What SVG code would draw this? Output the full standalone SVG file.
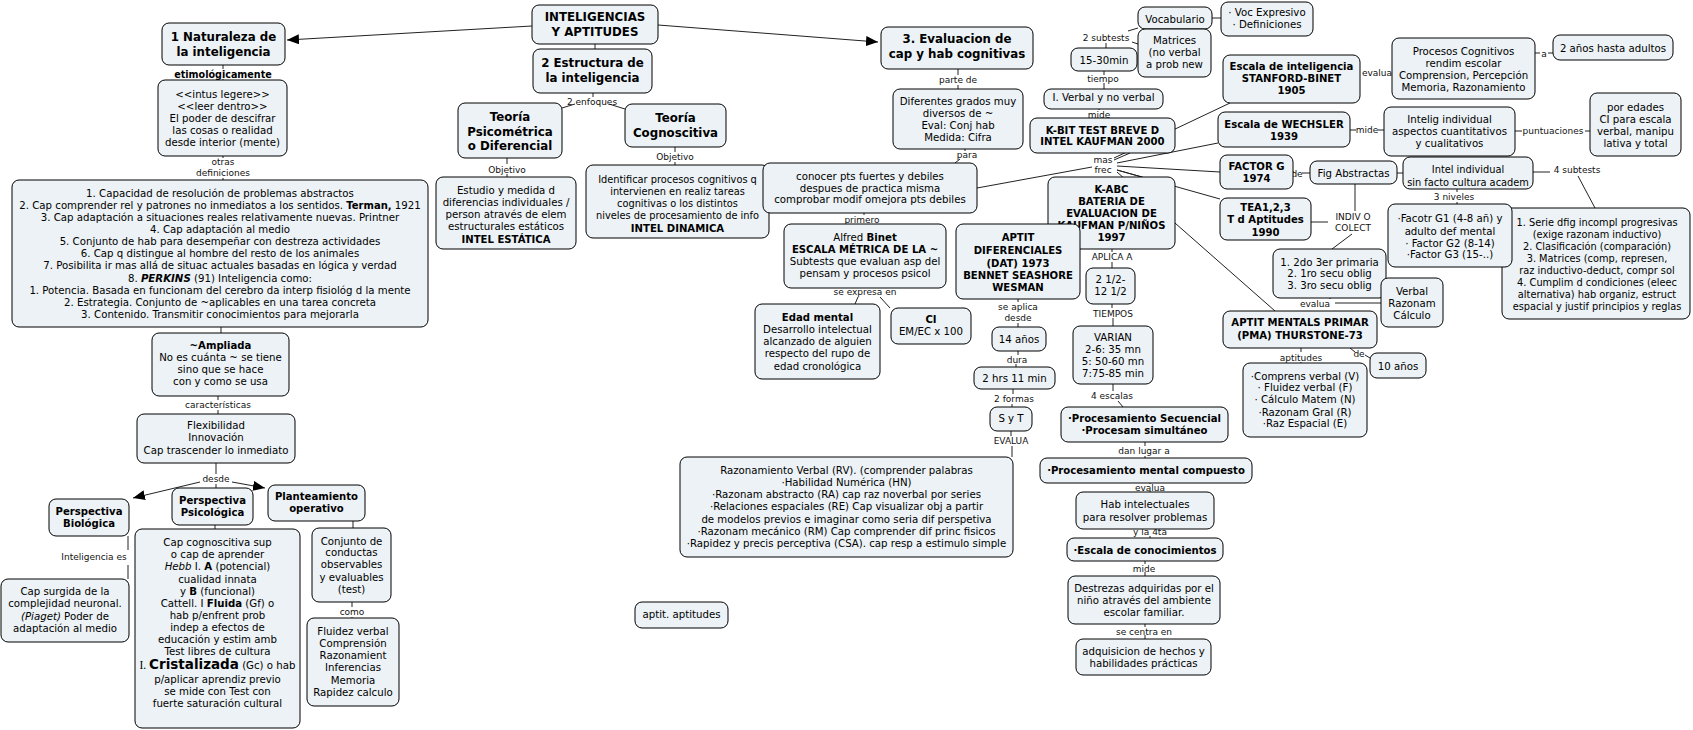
<svg xmlns="http://www.w3.org/2000/svg" width="1693" height="730" viewBox="0 0 1693 730">
<style>
.n rect{fill:#ecf2f5;stroke:#000;stroke-width:1}
text{font-family:"DejaVu Sans",Verdana,sans-serif;text-anchor:middle;fill:#000}
.t{font-size:10.2px}
.s{font-size:9.8px}
.b{font-size:10.1px;font-weight:bold}
.h{font-size:11.8px;font-weight:bold}
.l{font-size:9px;fill:#111}
.lb{font-size:9.6px;font-weight:bold}
#conn path{stroke:#222;stroke-width:1;fill:none}
</style>
<defs>
<marker id="ah" viewBox="0 0 12 10" refX="12" refY="5" markerWidth="12" markerHeight="10" markerUnits="userSpaceOnUse" orient="auto"><path d="M0,0 L12,5 L0,10 z" fill="#000"/></marker>
</defs>
<rect width="1693" height="730" fill="#fff"/>
<g id="conn">
<path d="M532,26 L287,40" marker-end="url(#ah)"/>
<path d="M658,25 L878,42" marker-end="url(#ah)"/>
<path d="M595,44 V49"/>
<path d="M223,65 V69 M223,79 V80"/>
<path d="M223,156 V158 M223,178 V180"/>
<path d="M221,327 V333"/>
<path d="M218,396 V400 M218,410 V414"/>
<path d="M216,463 V474"/>
<path d="M200,482 L133,498" marker-end="url(#ah)"/>
<path d="M216,484 V488"/>
<path d="M232,482 L265,488" marker-end="url(#ah)"/>
<path d="M215,525 V529"/>
<path d="M128,536 V550 M128,565 V579"/>
<path d="M353,521 V528"/>
<path d="M352,602 V607 M352,617 V618"/>
<path d="M593,93 V97 M575,104 L562,108 M609,104 L625,109"/>
<path d="M507,158 V164 M507,174 V177"/>
<path d="M675,147 V152 M675,162 V165"/>
<path d="M958,69 V75 M958,85 V89"/>
<path d="M965,149 V151 M960,159 L955,163"/>
<path d="M864,213 V215 M864,224 V224"/>
<path d="M977,188 L1092,167"/>
<path d="M858,297 L855,304 M880,297 L890,308"/>
<path d="M1018,299 V302 M1018,323 V327"/>
<path d="M1018,351 V355 M1016,364 V367"/>
<path d="M1013,389 V394 M1012,404 V407"/>
<path d="M1011,431 V436 M1012,446 V457"/>
<path d="M1112,249 V252 M1112,262 V268"/>
<path d="M1112,304 V308 M1113,318 V326"/>
<path d="M1113,384 V391 M1118,401 L1123,407"/>
<path d="M1145,442 V446 M1145,456 V458"/>
<path d="M1150,483 V484 M1150,491 V492"/>
<path d="M1150,536 V538"/>
<path d="M1145,561 V564 M1145,572 V576"/>
<path d="M1145,624 V627 M1145,635 V639"/>
<path d="M1104,71 V75 M1104,83 V89"/>
<path d="M1106,43 V48 M1128,31 L1138,28 M1132,42 L1138,44"/>
<path d="M1212,18 H1221"/>
<path d="M1099,109 V110"/>
<path d="M1114,160 L1130,153"/>
<path d="M1114,158 L1230,103"/>
<path d="M1117,163 L1218,143"/>
<path d="M1117,166 L1220,172"/>
<path d="M1117,170 L1142,177"/>
<path d="M1117,170 L1220,199"/>
<path d="M1117,172 L1275,311"/>
<path d="M1535,53 H1540 M1548,53 H1553"/>
<path d="M1350,130 H1356 M1378,130 H1384"/>
<path d="M1515,131 H1522 M1585,131 H1590"/>
<path d="M1293,172 H1294 M1302,173 H1310"/>
<path d="M1397,173 H1403"/>
<path d="M1533,172 H1550 M1578,176 L1595,208"/>
<path d="M1457,189 V192 M1457,202 V204"/>
<path d="M1311,222 H1328 M1355,184 V211 M1352,234 L1332,249"/>
<path d="M1330,298 V299 M1335,303 H1381"/>
<path d="M1301,348 V352 M1301,362 V363"/>
<path d="M1350,348 L1355,352 M1365,355 L1370,358"/>
<g id="labels">
<text class="lb" x="223" y="77.5">etimológicamente</text>
<text class="l" x="223" y="165.2">otras</text>
<text class="l" x="223" y="176.2">definiciones</text>
<text class="l" x="218" y="408.2">características</text>
<text class="l" x="216" y="482">desde</text>
<text class="l" x="94" y="560">Inteligencia es</text>
<text class="l" x="352" y="615.2">como</text>
<text class="l" x="592" y="105">2 enfoques</text>
<text class="l" x="507" y="172.5">Objetivo</text>
<text class="l" x="675" y="160.2">Objetivo</text>
<text class="l" x="958" y="83.2">parte de</text>
<text class="l" x="967" y="158.2">para</text>
<text class="l" x="862" y="223">primero</text>
<text class="l" x="865" y="295">se expresa en</text>
<text class="l" x="1018" y="310">se aplica</text>
<text class="l" x="1018" y="321">desde</text>
<text class="l" x="1017" y="362.5">dura</text>
<text class="l" x="1014" y="402">2 formas</text>
<text class="l" x="1011" y="444">EVALUA</text>
<text class="l" x="1112" y="260">APLICA A</text>
<text class="l" x="1113" y="316.5">TIEMPOS</text>
<text class="l" x="1112" y="399">4 escalas</text>
<text class="l" x="1144" y="454">dan lugar a</text>
<text class="l" x="1150" y="490.5">evalua</text>
<text class="l" x="1150" y="535">y la 4ta</text>
<text class="l" x="1144" y="571.5">mide</text>
<text class="l" x="1144" y="634.5">se centra en</text>
<text class="l" x="1103" y="82.2">tiempo</text>
<text class="l" x="1106" y="41">2 subtests</text>
<text class="l" x="1099" y="117.5">mide</text>
<text class="l" x="1103" y="162.5">mas</text>
<text class="l" x="1103" y="173.2">frec</text>
<text class="l" x="1377" y="76">evalua</text>
<text class="l" x="1544" y="56.5">a</text>
<text class="l" x="1367" y="132.5">mide</text>
<text class="l" x="1553" y="134">puntuaciones</text>
<text class="l" x="1297" y="176.5">de</text>
<text class="l" x="1577" y="173.2">4 subtests</text>
<text class="l" x="1454" y="200">3 niveles</text>
<text class="l" x="1353" y="220">INDIV O</text>
<text class="l" x="1353" y="231">COLECT</text>
<text class="l" x="1315" y="306.5">evalua</text>
<text class="l" x="1301" y="360.5">aptitudes</text>
<text class="l" x="1359" y="357.2">de</text>
</g>
</g>

<g id="n_root" class="n"><rect x="532" y="5" width="126" height="39" rx="7"/><text class="h"><tspan x="595" y="21.3">INTELIGENCIAS</tspan><tspan x="595" y="36.3">Y APTITUDES</tspan></text></g>
<g id="n_nat" class="n"><rect x="162" y="23" width="123" height="42" rx="7"/><text class="h"><tspan x="223.5" y="41.3">1 Naturaleza de</tspan><tspan x="223.5" y="56.3">la inteligencia</tspan></text></g>
<g id="n_estr" class="n"><rect x="533" y="49" width="119" height="44" rx="7"/><text class="h"><tspan x="592.5" y="67.3">2 Estructura de</tspan><tspan x="592.5" y="82.3">la inteligencia</tspan></text></g>
<g id="n_eval" class="n"><rect x="881" y="27" width="152" height="42" rx="7"/><text class="h"><tspan x="957" y="43.3">3. Evaluacion de</tspan><tspan x="957" y="58.3">cap y hab cognitivas</tspan></text></g>
<g id="n_tpsico" class="n"><rect x="458" y="103" width="104" height="55" rx="7"/><text class="h"><tspan x="510" y="121.3">Teoría</tspan><tspan x="510" y="135.6">Psicométrica</tspan><tspan x="510" y="150">o Diferencial</tspan></text></g>
<g id="n_tcogn" class="n"><rect x="625" y="104" width="101" height="43" rx="7"/><text class="h"><tspan x="675.5" y="122.3">Teoría</tspan><tspan x="675.5" y="137.3">Cognoscitiva</tspan></text></g>
<g id="n_estudio" class="n"><rect x="436" y="177" width="140" height="72" rx="7"/><text class="t"><tspan x="506" y="194">Estudio y medida d</tspan><tspan x="506" y="206">diferencias individuales /</tspan><tspan x="506" y="218">person através de elem</tspan><tspan x="506" y="230">estructurales estáticos</tspan><tspan x="506" y="242.6" class="b">INTEL ESTÁTICA</tspan></text></g>
<g id="n_ident" class="n"><rect x="586" y="165" width="183" height="73" rx="7"/><text class="s"><tspan x="677.5" y="183">Identificar procesos cognitivos q</tspan><tspan x="677.5" y="195">intervienen en realiz tareas</tspan><tspan x="677.5" y="207">cognitivas o los distintos</tspan><tspan x="677.5" y="219">niveles de procesamiento de info</tspan><tspan x="677.5" y="231.6" class="b">INTEL DINAMICA</tspan></text></g>
<g id="n_intus" class="n"><rect x="158" y="80" width="129" height="76" rx="7"/><text class="t"><tspan x="222.5" y="98">&lt;&lt;intus legere&gt;&gt;</tspan><tspan x="222.5" y="110">&lt;&lt;leer dentro&gt;&gt;</tspan><tspan x="222.5" y="122">El poder de descifrar</tspan><tspan x="222.5" y="134">las cosas o realidad</tspan><tspan x="222.5" y="146">desde interior (mente)</tspan></text></g>
<g id="n_defs" class="n"><rect x="12" y="180" width="416" height="147" rx="7"/><text class="t" font-size="10.5px"><tspan x="220" y="196.8">1. Capacidad de resolución de problemas abstractos</tspan><tspan x="220" y="208.9">2. Cap comprender rel y patrones no inmediatos a los sentidos. </tspan><tspan font-weight="bold" font-size="10px">Terman,</tspan><tspan> 1921</tspan><tspan x="220" y="221">3. Cap adaptación a situaciones reales relativamente nuevas. Printner</tspan><tspan x="220" y="233.1">4. Cap adaptación al medio</tspan><tspan x="220" y="245.2">5. Conjunto de hab para desempeñar con destreza actividades</tspan><tspan x="220" y="257.3">6. Cap q distingue al hombre del resto de los animales</tspan><tspan x="220" y="269.4">7. Posibilita ir mas allá de situac actuales basadas en lógica y verdad</tspan><tspan x="220" y="281.5">8. </tspan><tspan font-weight="bold" font-style="italic">PERKINS</tspan><tspan>  (91) Inteligencia como:</tspan><tspan x="220" y="293.6">1. Potencia. Basada en funcionam del cerebro da interp fisiológ d la mente</tspan><tspan x="220" y="305.7">2. Estrategia. Conjunto de ~aplicables en una tarea concreta</tspan><tspan x="220" y="317.8">3. Contenido. Transmitir conocimientos para mejorarla</tspan></text></g>
<g id="n_ampl" class="n"><rect x="152" y="333" width="137" height="63" rx="7"/><text class="t"><tspan x="220.5" y="348.6" class="b">~Ampliada</tspan><tspan x="220.5" y="360.8">No es cuánta ~ se tiene</tspan><tspan x="220.5" y="372.8">sino que se hace</tspan><tspan x="220.5" y="384.8">con y como se usa</tspan></text></g>
<g id="n_flex" class="n"><rect x="137" y="414" width="158" height="49" rx="7"/><text class="t"><tspan x="216" y="429">Flexibilidad</tspan><tspan x="216" y="441.3">Innovación</tspan><tspan x="216" y="453.6">Cap trascender lo inmediato</tspan></text></g>
<g id="n_bio" class="n"><rect x="49" y="499" width="80" height="37" rx="7"/><text class="b"><tspan x="89" y="515.3">Perspectiva</tspan><tspan x="89" y="527">Biológica</tspan></text></g>
<g id="n_psic" class="n"><rect x="172" y="488" width="81" height="37" rx="7"/><text class="b"><tspan x="212.5" y="503.6">Perspectiva</tspan><tspan x="212.5" y="515.8">Psicológica</tspan></text></g>
<g id="n_plan" class="n"><rect x="268" y="485" width="97" height="36" rx="7"/><text class="b"><tspan x="316.5" y="499.6">Planteamiento</tspan><tspan x="316.5" y="511.9">operativo</tspan></text></g>
<g id="n_capsurg" class="n"><rect x="1" y="579" width="128" height="63" rx="7"/><text class="t"><tspan x="65" y="594.8">Cap surgida de la</tspan><tspan x="65" y="607">complejidad neuronal.</tspan><tspan x="65" y="619.5" font-style="italic">(Piaget)</tspan><tspan>  Poder de</tspan><tspan x="65" y="632">adaptación al medio</tspan></text></g>
<g id="n_capcog" class="n"><rect x="135" y="529" width="165" height="199" rx="7"/><text class="t"><tspan x="217.5" y="545.8">Cap cognoscitiva sup</tspan><tspan x="217.5" y="557.8">o cap de aprender</tspan><tspan x="217.5" y="570.1" font-style="italic">Hebb</tspan><tspan>  I. </tspan><tspan font-weight="bold">A</tspan><tspan> (potencial)</tspan><tspan x="217.5" y="582.5">cualidad innata</tspan><tspan x="217.5" y="594.5">y </tspan><tspan font-weight="bold">B</tspan><tspan> (funcional)</tspan><tspan x="217.5" y="606.8">Cattell. I </tspan><tspan font-weight="bold">Fluida</tspan><tspan> (Gf) o</tspan><tspan x="217.5" y="618.8">hab p/enfrent prob</tspan><tspan x="217.5" y="630.8">indep a efectos de</tspan><tspan x="217.5" y="643.1">educación y estim amb</tspan><tspan x="217.5" y="655.1">Test libres de cultura</tspan><tspan x="217.5" y="668.8" font-family="'Liberation Serif',serif" font-size="11.5px">I. </tspan><tspan font-weight="bold" font-size="13.5px">Cristalizada</tspan><tspan> (Gc) o hab</tspan><tspan x="217.5" y="682.5">p/aplicar aprendiz previo</tspan><tspan x="217.5" y="694.5">se mide con Test con</tspan><tspan x="217.5" y="706.5">fuerte saturación cultural</tspan></text></g>
<g id="n_conj" class="n"><rect x="312" y="528" width="79" height="74" rx="7"/><text class="t"><tspan x="351.5" y="544.5">Conjunto de</tspan><tspan x="351.5" y="556.1">conductas</tspan><tspan x="351.5" y="568.1">observables</tspan><tspan x="351.5" y="580.5">y evaluables</tspan><tspan x="351.5" y="592.5">(test)</tspan></text></g>
<g id="n_fluid" class="n"><rect x="307" y="618" width="92" height="88" rx="7"/><text class="t"><tspan x="353" y="634.8">Fluidez verbal</tspan><tspan x="353" y="647.1">Comprensión</tspan><tspan x="353" y="659.1">Razonamient</tspan><tspan x="353" y="671.1">Inferencias</tspan><tspan x="353" y="683.5">Memoria</tspan><tspan x="353" y="695.5">Rapidez calculo</tspan></text></g>
<g id="n_difer" class="n"><rect x="893" y="89" width="130" height="60" rx="7"/><text class="t"><tspan x="958" y="104.8">Diferentes grados muy</tspan><tspan x="958" y="116.8">diversos de ~</tspan><tspan x="958" y="128.8">Eval: Conj hab</tspan><tspan x="958" y="140.8">Medida: Cifra</tspan></text></g>
<g id="n_conoc" class="n"><rect x="763" y="163" width="214" height="50" rx="7"/><text class="t"><tspan x="870" y="179.8">conocer pts fuertes y debiles</tspan><tspan x="870" y="191.5">despues de practica misma</tspan><tspan x="870" y="203">comprobar modif omejora pts debiles</tspan></text></g>
<g id="n_binet" class="n"><rect x="784" y="224" width="162" height="64" rx="7"/><text class="t"><tspan x="865" y="240.8">Alfred </tspan><tspan font-weight="bold">Binet</tspan><tspan x="865" y="252.6" class="b">ESCALA MÉTRICA DE LA ~</tspan><tspan x="865" y="264.8">Subtests que evaluan asp del</tspan><tspan x="865" y="276.8">pensam y procesos psicol</tspan></text></g>
<g id="n_edad" class="n"><rect x="755" y="304" width="125" height="75" rx="7"/><text class="t"><tspan x="817.5" y="320.6" class="b">Edad mental</tspan><tspan x="817.5" y="332.8">Desarrollo intelectual</tspan><tspan x="817.5" y="344.8">alcanzado de alguien</tspan><tspan x="817.5" y="356.8">respecto del rupo de</tspan><tspan x="817.5" y="369.5">edad cronológica</tspan></text></g>
<g id="n_ci" class="n"><rect x="891" y="308" width="80" height="36" rx="7"/><text class="t"><tspan x="931" y="322.6" class="b">CI</tspan><tspan x="931" y="334.8">EM/EC x 100</tspan></text></g>
<g id="n_kabc" class="n"><rect x="1048" y="177" width="127" height="72" rx="7"/><text class="b"><tspan x="1111.5" y="192.6">K-ABC</tspan><tspan x="1111.5" y="204.6">BATERIA DE</tspan><tspan x="1111.5" y="216.8">EVALUACION DE</tspan><tspan x="1111.5" y="228.8">KAUFMAN P/NIÑOS</tspan><tspan x="1111.5" y="240.8">1997</tspan></text></g>
<g id="n_dat" class="n"><rect x="956" y="224" width="124" height="75" rx="7"/><text class="b"><tspan x="1018" y="240.8">APTIT</tspan><tspan x="1018" y="253.6">DIFERENCIALES</tspan><tspan x="1018" y="266.8">(DAT) 1973</tspan><tspan x="1018" y="279.2">BENNET SEASHORE</tspan><tspan x="1018" y="291.3">WESMAN</tspan></text></g>
<g id="n_14" class="n"><rect x="992" y="327" width="54" height="24" rx="7"/><text class="t"><tspan x="1019" y="342.8">14 años</tspan></text></g>
<g id="n_2hrs" class="n"><rect x="974" y="367" width="81" height="22" rx="7"/><text class="t"><tspan x="1014.5" y="381.8">2 hrs 11 min</tspan></text></g>
<g id="n_syt" class="n"><rect x="990" y="407" width="42" height="24" rx="7"/><text class="t"><tspan x="1011" y="422">S y T</tspan></text></g>
<g id="n_razon" class="n"><rect x="680" y="457" width="333" height="100" rx="7"/><text class="t"><tspan x="846.5" y="473.8">Razonamiento Verbal (RV). (comprender palabras</tspan><tspan x="846.5" y="485.8">·Habilidad Numérica (HN)</tspan><tspan x="846.5" y="498">·Razonam abstracto (RA) cap raz noverbal por series</tspan><tspan x="846.5" y="510">·Relaciones espaciales (RE) Cap visualizar obj a partir</tspan><tspan x="846.5" y="522.5">de modelos previos e imaginar como seria dif perspetiva</tspan><tspan x="846.5" y="534.8">·Razonam mecánico (RM) Cap comprender dif princ fisicos</tspan><tspan x="846.5" y="547">·Rapidez y precis perceptiva (CSA). cap resp a estimulo simple</tspan></text></g>
<g id="n_aptit" class="n"><rect x="635" y="602" width="93" height="26" rx="7"/><text class="t"><tspan x="681.5" y="618">aptit. aptitudes</tspan></text></g>
<g id="n_kbit" class="n"><rect x="1030" y="118" width="145" height="35" rx="7"/><text class="b"><tspan x="1102.5" y="133.6">K-BIT TEST BREVE D</tspan><tspan x="1102.5" y="145.3">INTEL KAUFMAN 2000</tspan></text></g>
<g id="n_iverb" class="n"><rect x="1044" y="89" width="119" height="20" rx="7"/><text class="t"><tspan x="1103.5" y="100.8">I. Verbal y no verbal</tspan></text></g>
<g id="n_1530" class="n"><rect x="1071" y="48" width="66" height="23" rx="7"/><text class="t"><tspan x="1104" y="63.8">15-30min</tspan></text></g>
<g id="n_vocab" class="n"><rect x="1138" y="7" width="74" height="22" rx="7"/><text class="t"><tspan x="1175" y="22.5">Vocabulario</tspan></text></g>
<g id="n_matr" class="n"><rect x="1138" y="29" width="73" height="48" rx="7"/><text class="t"><tspan x="1174.5" y="43.8">Matrices</tspan><tspan x="1174.5" y="55.5">(no verbal</tspan><tspan x="1174.5" y="67.8">a prob new</tspan></text></g>
<g id="n_vocexp" class="n"><rect x="1221" y="2" width="92" height="34" rx="7"/><text class="t"><tspan x="1267" y="15.5">· Voc Expresivo</tspan><tspan x="1267" y="28">· Definiciones</tspan></text></g>
<g id="n_2half" class="n"><rect x="1086" y="268" width="49" height="36" rx="7"/><text class="t"><tspan x="1110.5" y="282.8">2 1/2-</tspan><tspan x="1110.5" y="294.8">12 1/2</tspan></text></g>
<g id="n_varian" class="n"><rect x="1073" y="326" width="80" height="58" rx="7"/><text class="t"><tspan x="1113" y="340.5">VARIAN</tspan><tspan x="1113" y="352.8">2-6: 35 mn</tspan><tspan x="1113" y="364.5">5: 50-60 mn</tspan><tspan x="1113" y="376.5">7:75-85 min</tspan></text></g>
<g id="n_procsec" class="n"><rect x="1061" y="407" width="167" height="35" rx="7"/><text class="b"><tspan x="1144.5" y="422">·Procesamiento Secuencial</tspan><tspan x="1144.5" y="434.3">·Procesam simultáneo</tspan></text></g>
<g id="n_procmc" class="n"><rect x="1040" y="458" width="212" height="25" rx="7"/><text class="b"><tspan x="1146" y="473.6">·Procesamiento mental compuesto</tspan></text></g>
<g id="n_hab" class="n"><rect x="1076" y="492" width="138" height="37" rx="7"/><text class="t"><tspan x="1145" y="507.8">Hab intelectuales</tspan><tspan x="1145" y="520.5">para resolver problemas</tspan></text></g>
<g id="n_escon" class="n"><rect x="1067" y="538" width="156" height="23" rx="7"/><text class="b"><tspan x="1145" y="553.6">·Escala de conocimientos</tspan></text></g>
<g id="n_destr" class="n"><rect x="1068" y="576" width="152" height="48" rx="7"/><text class="t"><tspan x="1144" y="591.5">Destrezas adquiridas por el</tspan><tspan x="1144" y="603.8">niño através del ambiente</tspan><tspan x="1144" y="615.8">escolar  familiar.</tspan></text></g>
<g id="n_adq" class="n"><rect x="1076" y="639" width="135" height="36" rx="7"/><text class="t"><tspan x="1143.5" y="654.5">adquisicion de hechos y</tspan><tspan x="1143.5" y="666.5">habilidades prácticas</tspan></text></g>
<g id="n_stan" class="n"><rect x="1223" y="55" width="137" height="48" rx="7"/><text class="b"><tspan x="1291.5" y="70.3">Escala de inteligencia</tspan><tspan x="1291.5" y="82.3">STANFORD-BINET</tspan><tspan x="1291.5" y="94.3">1905</tspan></text></g>
<g id="n_proccog" class="n"><rect x="1392" y="38" width="143" height="61" rx="7"/><text class="t"><tspan x="1463.5" y="54.8">Procesos Cognitivos</tspan><tspan x="1463.5" y="66.8">rendim escolar</tspan><tspan x="1463.5" y="78.8">Comprension, Percepción</tspan><tspan x="1463.5" y="90.8">Memoria, Razonamiento</tspan></text></g>
<g id="n_2anos" class="n"><rect x="1553" y="35" width="120" height="25" rx="7"/><text class="t"><tspan x="1613" y="51.5">2 años hasta adultos</tspan></text></g>
<g id="n_wech" class="n"><rect x="1218" y="112" width="132" height="35" rx="7"/><text class="b"><tspan x="1284" y="127.6">Escala de WECHSLER</tspan><tspan x="1284" y="140.3">1939</tspan></text></g>
<g id="n_intelig" class="n"><rect x="1384" y="107" width="131" height="49" rx="7"/><text class="t"><tspan x="1449.5" y="122.5">Intelig individual</tspan><tspan x="1449.5" y="134.5">aspectos cuantitativos</tspan><tspan x="1449.5" y="146.5">y cualitativos</tspan></text></g>
<g id="n_poredad" class="n"><rect x="1590" y="93" width="91" height="63" rx="7"/><text class="t"><tspan x="1635.5" y="110.5">por edades</tspan><tspan x="1635.5" y="122.5">CI para escala</tspan><tspan x="1635.5" y="134.5">verbal, manipu</tspan><tspan x="1635.5" y="146.5">lativa y total</tspan></text></g>
<g id="n_factg" class="n"><rect x="1220" y="155" width="73" height="34" rx="7"/><text class="b"><tspan x="1256.5" y="170.3">FACTOR G</tspan><tspan x="1256.5" y="182">1974</tspan></text></g>
<g id="n_figabs" class="n"><rect x="1310" y="161" width="87" height="23" rx="7"/><text class="t"><tspan x="1353.5" y="177">Fig Abstractas</tspan></text></g>
<g id="n_intelind" class="n"><rect x="1403" y="157" width="130" height="32" rx="7"/><text class="s"><tspan x="1468" y="173.1">Intel individual</tspan><tspan x="1468" y="185.5">sin facto cultura academ</tspan></text></g>
<g id="n_serie" class="n"><rect x="1502" y="208" width="188" height="111" rx="7"/><text class="s"><tspan x="1597" y="225.5">1. Serie dfig incompl progresivas</tspan><tspan x="1597" y="237.8">(exige razonam inductivo)</tspan><tspan x="1597" y="249.8">2. Clasificación (comparación)</tspan><tspan x="1597" y="262.1">3. Matrices (comp, represen,</tspan><tspan x="1597" y="273.8">raz inductivo-deduct, compr sol</tspan><tspan x="1597" y="286.1">4. Cumplim d condiciones (eleec</tspan><tspan x="1597" y="297.8">alternativa) hab organiz, estruct</tspan><tspan x="1597" y="309.8">espacial y justif principios y reglas</tspan></text></g>
<g id="n_factg1" class="n"><rect x="1388" y="204" width="124" height="63" rx="7"/><text class="t"><tspan x="1450" y="222.1">·Facotr G1 (4-8 añ) y</tspan><tspan x="1450" y="234.5">adulto def mental</tspan><tspan x="1450" y="246.5">· Factor G2 (8-14)</tspan><tspan x="1450" y="257.8">·Factor G3 (15-..)</tspan></text></g>
<g id="n_tea" class="n"><rect x="1220" y="198" width="91" height="42" rx="7"/><text class="b"><tspan x="1265.5" y="210.8">TEA1,2,3</tspan><tspan x="1265.5" y="223.2">T d Aptitudes</tspan><tspan x="1265.5" y="235.6">1990</tspan></text></g>
<g id="n_2do" class="n"><rect x="1273" y="249" width="113" height="49" rx="7"/><text class="t"><tspan x="1329.5" y="265.5">1. 2do 3er primaria</tspan><tspan x="1329.5" y="277.1">2. 1ro secu oblig</tspan><tspan x="1329.5" y="288.8">3. 3ro secu oblig</tspan></text></g>
<g id="n_verbal" class="n"><rect x="1381" y="278" width="62" height="49" rx="7"/><text class="t"><tspan x="1412" y="294.8">Verbal</tspan><tspan x="1412" y="306.5">Razonam</tspan><tspan x="1412" y="318.8">Cálculo</tspan></text></g>
<g id="n_pma" class="n"><rect x="1223" y="311" width="154" height="37" rx="7"/><text class="b"><tspan x="1300" y="326.3">APTIT MENTALS PRIMAR</tspan><tspan x="1300" y="338.6">(PMA) THURSTONE-73</tspan></text></g>
<g id="n_10" class="n"><rect x="1370" y="353" width="56" height="25" rx="7"/><text class="t"><tspan x="1398" y="369.8">10 años</tspan></text></g>
<g id="n_compr" class="n"><rect x="1243" y="363" width="124" height="74" rx="7"/><text class="t"><tspan x="1305" y="379.5">·Comprens verbal (V)</tspan><tspan x="1305" y="391.1">· Fluidez verbal (F)</tspan><tspan x="1305" y="403.1">· Cálculo Matem (N)</tspan><tspan x="1305" y="415.5">·Razonam Gral (R)</tspan><tspan x="1305" y="427.1">·Raz Espacial (E)</tspan></text></g>
</svg>
